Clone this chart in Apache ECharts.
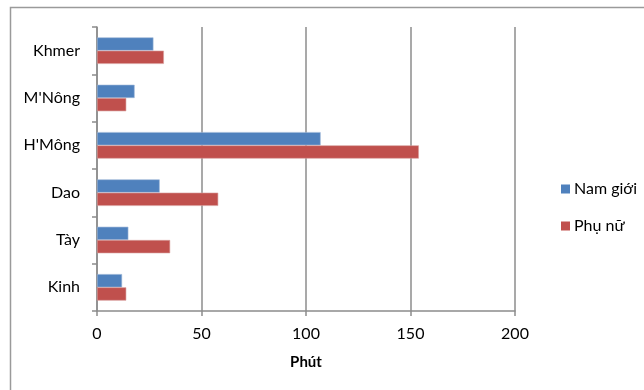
<!DOCTYPE html>
<html>
<head>
<meta charset="utf-8">
<script src="https://cdn.jsdelivr.net/npm/echarts@6/dist/echarts.min.js"></script>
<style>html,body{margin:0;padding:0;background:#fff}#c{width:644px;height:390px}</style>
</head>
<body>
<div id="c"></div>
<script>
const categories = ['Kinh', 'Tày', 'Dao', "H'Mông", "M'Nông", 'Khmer'];
const namGioi = [12, 15, 30, 107, 18, 27];
const phuNu = [14, 35, 58, 154, 14, 32];
const xTicks = [0, 50, 100, 150, 200];

const FONT = 'Lato';
const chart = echarts.init(document.getElementById('c'));
chart.setOption({
  animation: false,
  backgroundColor: '#fff',
  textStyle: { fontFamily: FONT },
  graphic: [{
    type: 'rect', shape: { x: 10.5, y: 7.5, width: 700, height: 500 },
    style: { fill: 'none', stroke: '#9a9a9a', lineWidth: 1.5 }, silent: true
  }],
  grid: { left: 97, right: 129, top: 27, bottom: 79 },
  legend: {
    orient: 'vertical', left: 556, top: 176,
    itemWidth: 9, itemHeight: 9, itemGap: 21,
    icon: 'rect',
    data: ['Nam giới', 'Phụ nữ'],
    itemStyle: { borderWidth: 0 },
    textStyle: { fontFamily: FONT, fontSize: 16, color: '#000', padding: [0, 0, 0, -1] }
  },
  xAxis: {
    type: 'value', min: xTicks[0], max: xTicks[xTicks.length - 1], interval: 50,
    name: 'Phút', nameLocation: 'middle', nameGap: 44,
    nameTextStyle: { fontFamily: FONT, fontSize: 15, fontWeight: 'bold', color: '#000' },
    axisLine: { show: true, lineStyle: { color: '#8c8c8c', width: 1.5 } },
    axisTick: { show: true, length: 5, lineStyle: { color: '#8c8c8c', width: 1.5 } },
    axisLabel: { fontFamily: FONT, fontSize: 16, color: '#000', margin: 15 },
    splitLine: { show: true, lineStyle: { color: '#8c8c8c', width: 1.5 } }
  },
  yAxis: {
    type: 'category', data: categories,
    axisLine: { show: true, lineStyle: { color: '#8c8c8c', width: 1.5 } },
    axisTick: { show: true, length: 5, lineStyle: { color: '#8c8c8c', width: 1.5 } },
    axisLabel: { fontFamily: FONT, fontSize: 16, color: '#000', margin: 17 },
    splitLine: { show: false }
  },
  series: [
    {
      name: 'Nam giới', type: 'bar', data: namGioi,
      barGap: '0%', barCategoryGap: '44%',
      itemStyle: { color: '#4F81BD', borderColor: '#9fb8d8', borderWidth: 0.6 }
    },
    {
      name: 'Phụ nữ', type: 'bar', data: phuNu,
      barGap: '0%', barCategoryGap: '44%',
      itemStyle: { color: '#C0504D', borderColor: '#d9a09e', borderWidth: 0.6 }
    }
  ]
});
</script>
</body>
</html>
